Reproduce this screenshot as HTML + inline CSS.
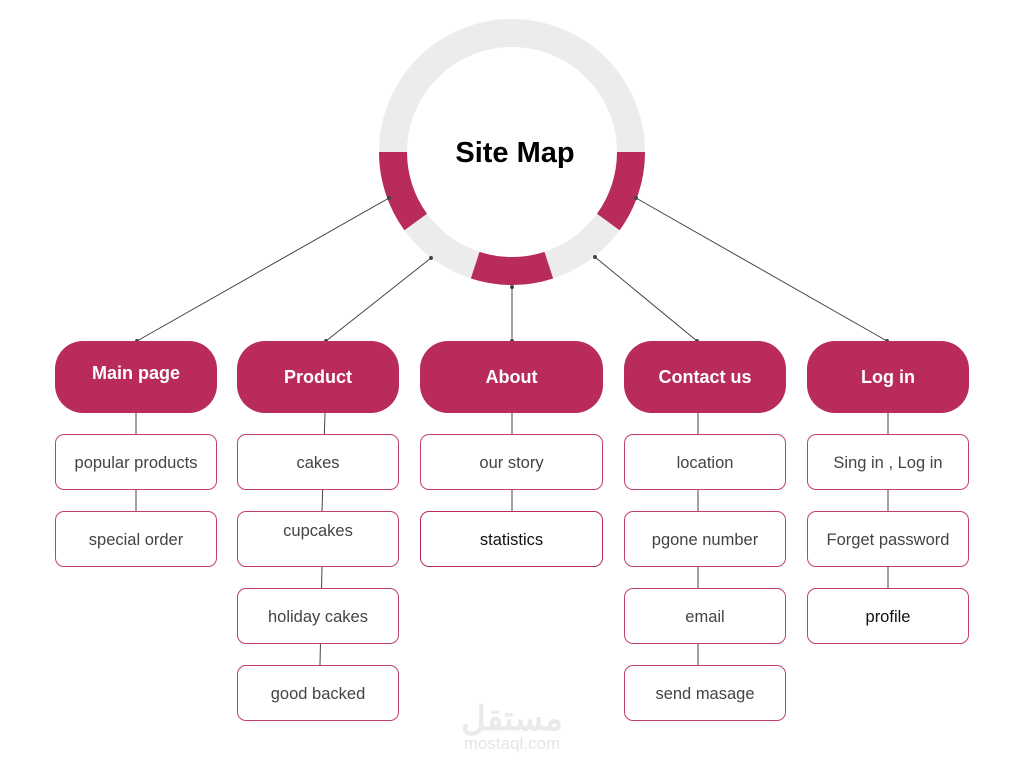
<!DOCTYPE html>
<html><head><style>
body{margin:0;width:1024px;height:768px;background:#fff;position:relative;overflow:hidden;font-family:"Liberation Sans",sans-serif}
.h{position:absolute;background:#b82b5a;color:#fff;font-weight:bold;font-size:18px;border-radius:28px;display:flex;align-items:center;justify-content:center;height:72px;top:341px}
.s{position:absolute;border:1px solid #c2416b;border-radius:9px;display:flex;align-items:center;justify-content:center;font-size:16.5px;color:#444;background:#fff;box-sizing:border-box;height:56px;padding-top:2px}
svg{position:absolute;left:0;top:0}
</style></head><body>
<svg width="1024" height="768">
<circle cx="512" cy="152" r="119" fill="none" stroke="#ececec" stroke-width="28"/>
<g fill="none" stroke="#b82b5a" stroke-width="28">
<path d="M393 152 A119 119 0 0 0 415.7 222"/>
<path d="M475.2 265.2 A119 119 0 0 0 548.8 265.2"/>
<path d="M608.3 222 A119 119 0 0 0 631 152"/>
</g>
<g stroke="#444" stroke-width="1">
<line x1="389" y1="198" x2="137" y2="341"/>
<line x1="431" y1="258" x2="326" y2="341"/>
<line x1="512" y1="287" x2="512" y2="341"/>
<line x1="595" y1="257" x2="697" y2="341"/>
<line x1="636" y1="198" x2="887" y2="341"/>
<line x1="136" y1="413" x2="136" y2="511"/>
<line x1="325" y1="413" x2="322" y2="511"/>
<line x1="322" y1="567" x2="320" y2="665"/>
<line x1="512" y1="413" x2="512" y2="511"/>
<line x1="698" y1="413" x2="698" y2="665"/>
<line x1="888" y1="413" x2="888" y2="588"/>
</g>
<g fill="#444">
<circle cx="389" cy="198" r="2"/><circle cx="137" cy="341" r="2"/>
<circle cx="431" cy="258" r="2"/><circle cx="326" cy="341" r="2"/>
<circle cx="512" cy="287" r="2"/><circle cx="512" cy="341" r="2"/>
<circle cx="595" cy="257" r="2"/><circle cx="697" cy="341" r="2"/>
<circle cx="636" cy="198" r="2"/><circle cx="887" cy="341" r="2"/>
</g>
<text x="515" y="162" text-anchor="middle" font-family="Liberation Sans" font-weight="bold" font-size="29" fill="#000">Site Map</text>
<text x="512" y="730" text-anchor="middle" font-family="Liberation Sans" font-weight="bold" font-size="34" fill="#eaeaea">مستقل</text>
<text x="512" y="749" text-anchor="middle" font-family="Liberation Sans" font-size="17" fill="#e6e6e6">mostaql.com</text>
</svg>
<div class="h" style="left:55px;width:162px;padding-bottom:8px;box-sizing:border-box">Main page</div>
<div class="h" style="left:237px;width:162px">Product</div>
<div class="h" style="left:420px;width:183px">About</div>
<div class="h" style="left:624px;width:162px">Contact us</div>
<div class="h" style="left:807px;width:162px">Log in</div>

<div class="s" style="left:55px;top:434px;width:162px">popular products</div>
<div class="s" style="left:55px;top:511px;width:162px">special order</div>

<div class="s" style="left:237px;top:434px;width:162px">cakes</div>
<div class="s" style="left:237px;top:511px;width:162px;padding-bottom:18px">cupcakes</div>
<div class="s" style="left:237px;top:588px;width:162px">holiday cakes</div>
<div class="s" style="left:237px;top:665px;width:162px">good backed</div>

<div class="s" style="left:420px;top:434px;width:183px">our story</div>
<div class="s" style="left:420px;top:511px;width:183px;color:#111;border-color:#b82b5a">statistics</div>

<div class="s" style="left:624px;top:434px;width:162px">location</div>
<div class="s" style="left:624px;top:511px;width:162px">pgone number</div>
<div class="s" style="left:624px;top:588px;width:162px">email</div>
<div class="s" style="left:624px;top:665px;width:162px">send masage</div>

<div class="s" style="left:807px;top:434px;width:162px">Sing in , Log in</div>
<div class="s" style="left:807px;top:511px;width:162px">Forget password</div>
<div class="s" style="left:807px;top:588px;width:162px;color:#111">profile</div>
</body></html>
